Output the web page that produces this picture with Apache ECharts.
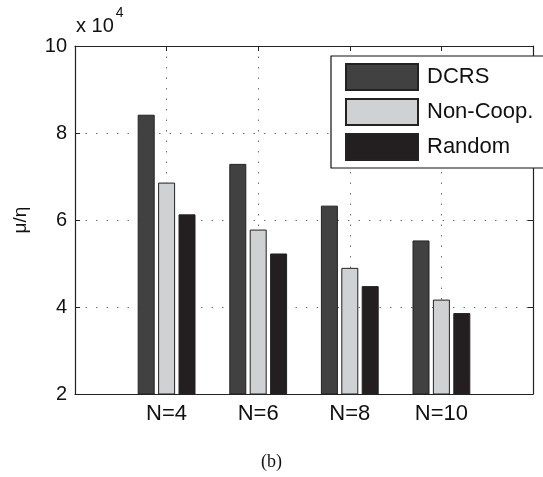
<!DOCTYPE html>
<html>
<head>
<meta charset="utf-8">
<script src="https://cdn.jsdelivr.net/npm/echarts@6/dist/echarts.min.js"></script>
<style>
html,body{margin:0;padding:0;background:#fff;}
#c{width:543px;height:477px;}
</style>
</head>
<body>
<div id="c"></div>
<script>
// Data (values in units of 1; axis shows x 10^4)
const categories = ['N=4', 'N=6', 'N=8', 'N=10'];
const seriesNames = ['DCRS', 'Non-Coop.', 'Random'];
const dcrs = [84200, 72900, 63300, 55300];
const nonCoop = [68600, 57800, 49000, 41700];
const random = [61300, 52300, 44800, 38600];
const yTicks = [20000, 40000, 60000, 80000, 100000];

const colors = ['#414141', '#d0d1d3', '#231f20'];
// padded categories so that groups sit at 1..4 in an axis range of 0..5
const cats = [''].concat(categories, ['']);
const pad = arr => [null].concat(arr, [null]);
const inner = (i) => i >= 1 && i <= categories.length;

const chart = echarts.init(document.getElementById('c'), null, {renderer: 'canvas'});
const font = 'Liberation Sans, Arial, Helvetica, sans-serif';
const dotted = {color: '#6e6e6e', width: 1, type: [1.5, 9]};

const mkSeries = (name, data, color) => ({
  name: name,
  type: 'bar',
  xAxisIndex: 0,
  yAxisIndex: 0,
  data: pad(data),
  barWidth: 17,
  barGap: '20%',
  itemStyle: {color: color, borderColor: '#222', borderWidth: 1}
});

chart.setOption({
  animation: false,
  backgroundColor: '#fff',
  grid: {left: 75, right: 10, top: 46, bottom: 83, containLabel: false},
  legend: {
    data: seriesNames,
    orient: 'vertical',
    left: 331,
    top: 56,
    itemWidth: 72,
    itemHeight: 26,
    itemGap: 7,
    padding: [7, 40, 7, 14],
    backgroundColor: '#fff',
    borderColor: '#111',
    borderWidth: 1.2,
    borderRadius: 0,
    icon: 'rect',
    textStyle: {fontFamily: font, fontSize: 22, color: '#111', padding: [0, 0, 0, 4]}
  },
  xAxis: [{
    type: 'category',
    data: cats,
    boundaryGap: false,
    position: 'bottom',
    axisLine: {show: true, lineStyle: {color: '#222', width: 1.2}},
    axisTick: {show: true, inside: true, length: 5, interval: (i) => inner(i), lineStyle: {color: '#222'}},
    axisLabel: {show: true, interval: 0, fontFamily: font, fontSize: 22, color: '#111', margin: 9},
    splitLine: {show: true, interval: (i) => inner(i), lineStyle: dotted}
  }, {
    type: 'category',
    data: cats,
    boundaryGap: false,
    position: 'top',
    axisLine: {show: true, lineStyle: {color: '#222', width: 1.2}},
    axisTick: {show: true, inside: true, length: 5, interval: (i) => inner(i), lineStyle: {color: '#222'}},
    axisLabel: {show: false},
    splitLine: {show: false}
  }],
  yAxis: [{
    type: 'value',
    min: 20000,
    max: 100000,
    interval: 20000,
    position: 'left',
    name: 'μ/η',
    nameLocation: 'middle',
    nameRotate: 90,
    nameGap: 45,
    nameTextStyle: {fontFamily: font, fontSize: 19, color: '#111'},
    axisLine: {show: true, lineStyle: {color: '#222', width: 1.2}},
    axisTick: {show: true, inside: true, length: 5, lineStyle: {color: '#222'}},
    axisLabel: {fontFamily: font, fontSize: 20, color: '#111', margin: 8,
      formatter: (v) => yTicks.indexOf(v) >= 0 ? String(v / 10000) : ''},
    splitLine: {show: true, lineStyle: dotted}
  }, {
    type: 'value',
    min: 20000,
    max: 100000,
    interval: 20000,
    position: 'right',
    axisLine: {show: true, lineStyle: {color: '#222', width: 1.2}},
    axisTick: {show: true, inside: true, length: 5, lineStyle: {color: '#222'}},
    axisLabel: {show: false},
    splitLine: {show: false}
  }],
  series: [
    mkSeries(seriesNames[0], dcrs, colors[0]),
    mkSeries(seriesNames[1], nonCoop, colors[1]),
    mkSeries(seriesNames[2], random, colors[2])
  ],
  graphic: [{
    type: 'text',
    left: 76,
    top: 6,
    style: {
      text: '{a|x 10}{b|4}',
      rich: {
        a: {fontFamily: font, fontSize: 20, fill: '#111', verticalAlign: 'bottom', padding: [10, 0, 0, 0]},
        b: {fontFamily: font, fontSize: 14, fill: '#111', verticalAlign: 'top', padding: [0, 0, 0, 2]}
      }
    }
  }, {
    type: 'text',
    left: 'center',
    top: 453,
    style: {text: '(b)', fontFamily: 'Liberation Serif, Times New Roman, serif', fontSize: 18, fill: '#111'}
  }]
});
</script>
</body>
</html>
